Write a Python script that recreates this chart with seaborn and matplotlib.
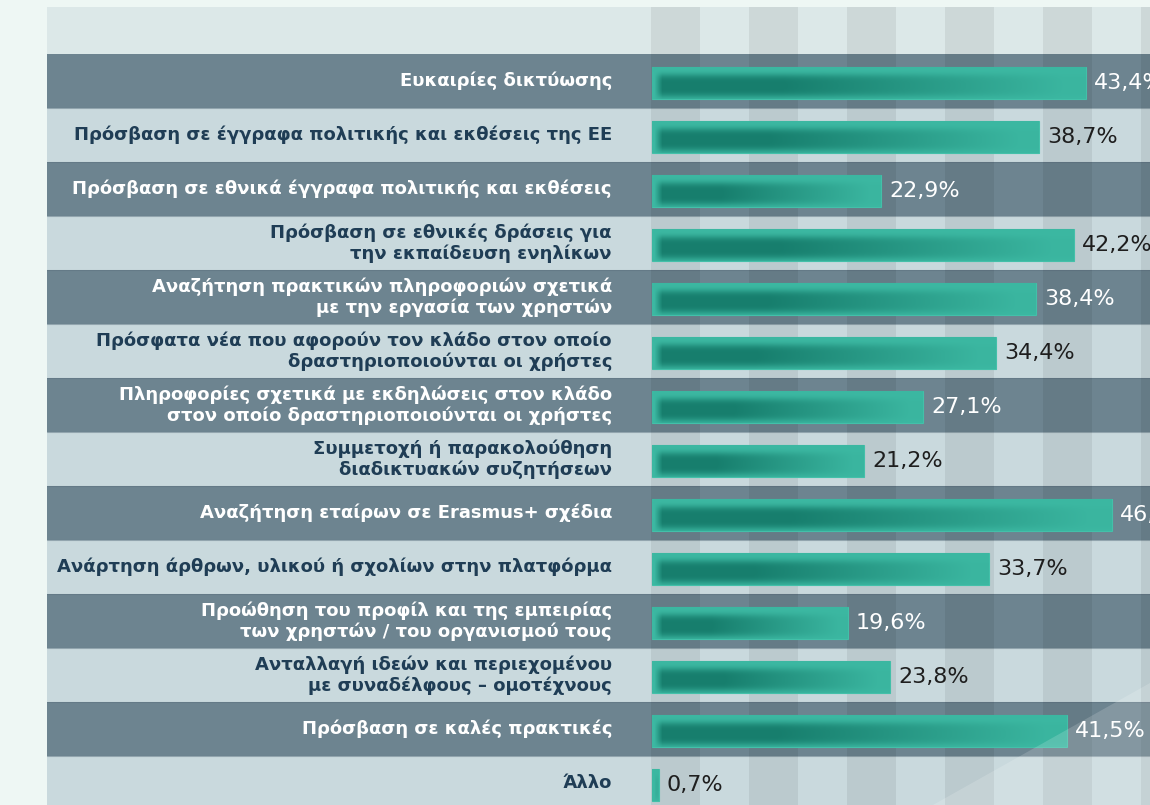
import numpy as np
import pandas as pd
import matplotlib
matplotlib.use("Agg")
import matplotlib.pyplot as plt
from matplotlib.patches import Polygon
import seaborn as sns

# data
labels = [
    "Ευκαιρίες δικτύωσης",
    "Πρόσβαση σε έγγραφα πολιτικής και εκθέσεις της ΕΕ",
    "Πρόσβαση σε εθνικά έγγραφα πολιτικής και εκθέσεις",
    "Πρόσβαση σε εθνικές δράσεις για\nτην εκπαίδευση ενηλίκων",
    "Αναζήτηση πρακτικών πληροφοριών σχετικά\nμε την εργασία των χρηστών",
    "Πρόσφατα νέα που αφορούν τον κλάδο στον οποίο\nδραστηριοποιούνται οι χρήστες",
    "Πληροφορίες σχετικά με εκδηλώσεις στον κλάδο\nστον οποίο δραστηριοποιούνται οι χρήστες",
    "Συμμετοχή ή παρακολούθηση\nδιαδικτυακών συζητήσεων",
    "Αναζήτηση εταίρων σε Erasmus+ σχέδια",
    "Ανάρτηση άρθρων, υλικού ή σχολίων στην πλατφόρμα",
    "Προώθηση του προφίλ και της εμπειρίας\nτων χρηστών / του οργανισμού τους",
    "Ανταλλαγή ιδεών και περιεχομένου\nμε συναδέλφους – ομοτέχνους",
    "Πρόσβαση σε καλές πρακτικές",
    "Άλλο",
]
values = [43.4, 38.7, 22.9, 42.2, 38.4, 34.4, 27.1, 21.2, 46.0, 33.7, 19.6, 23.8, 41.5, 0.7]

# colours
outer_bg = "#eef7f4"
header_bg = "#dce8e8"
dark_row = "#6d8490"
light_row = "#c9d9dd"
navy = "#1f3d55"
teal_light = np.array([0x3c, 0xb8, 0xa2]) / 255
teal_dark = np.array([0x17, 0x7e, 0x6d]) / 255

sns.set_style("white")
plt.rcParams["font.family"] = ["DejaVu Sans"]

W, H = 1150, 805
fig = plt.figure(figsize=(W / 100, H / 100), dpi=100)
fig.patch.set_facecolor(outer_bg)

# axes covers the whole panel (label column + plot area), 10 px per percent
left_px, top_px, zero_px = 47, 7, 652
ax = fig.add_axes([left_px / W, 0, 1 - left_px / W, (H - top_px) / H])

df = pd.DataFrame({"label": labels, "value": values})
sns.barplot(data=df, x="value", y="label", orient="h", color=teal_light,
            width=0.6, ax=ax, zorder=3, edgecolor="#43c0a9", linewidth=0.8)
bars = list(ax.containers[0])

# row bands
for i in range(len(labels)):
    ax.axhspan(i - 0.5, i + 0.5, color=dark_row if i % 2 == 0 else light_row,
               zorder=0, lw=0)
    ax.axhline(i + 0.5, color="#5c7280", lw=0.8, alpha=0.5, zorder=0.5)
ax.axhspan(-2, -0.5, color=header_bg, zorder=0, lw=0)

# vertical stripes in plot area
for k in range(6):
    ax.axvspan(k * 9.8 - 0.1, k * 9.8 + 4.8, color="black", alpha=0.065,
               zorder=1, lw=0)

# blurred gradient fill inside each bar
for b in bars:
    b.set_y(b.get_y() + 0.04)
    x0, y0, w, h = b.get_x(), b.get_y(), b.get_width(), b.get_height()
    nx, ny = max(int(w * 10), 4), 32
    px = np.arange(nx)
    ramp = np.clip((px - 2) / 8.0, 0, 1)
    decay = np.clip(1 - (px - 0.3 * nx) / (0.68 * nx), 0.05, 1)
    hx = ramp * decay
    t = np.linspace(0, 1, ny)
    vy = np.exp(-((t - 0.6) / 0.36) ** 4)
    wgt = (vy[:, None] * hx[None, :])[..., None]
    rgb = teal_light + (teal_dark - teal_light) * wgt
    im = ax.imshow(rgb, extent=(x0, x0 + w, y0 + h, y0), aspect="auto",
                   interpolation="bilinear", zorder=3.5)
    im.set_clip_path(b)

# value labels and category labels
for i, (lab, v) in enumerate(zip(labels, values)):
    dark = i % 2 == 0
    ax.text(v + 0.8, i + 0.04, f"{v:.1f}%".replace(".", ","), ha="left",
            va="center", fontsize=16, color="white" if dark else "#1e1e1e",
            zorder=6)
    ax.text(-4.0, i, lab, ha="right", va="center", fontsize=13.0,
            fontweight="bold", color="white" if dark else navy,
            linespacing=1.2, zorder=6)

# light diagonal in the lower right corner
tri = Polygon([(933 / W, 0), (1, (H - 683) / H), (1, 0)], closed=True,
              transform=fig.transFigure, facecolor="white", alpha=0.16,
              lw=0, zorder=4.5, clip_on=False)
ax.add_artist(tri)

ax.set_xlim(-(zero_px - left_px) / 10, (W - zero_px) / 10)
ax.set_ylim(13 + (H - 783) / 54, (top_px - 81) / 54)
ax.axis("off")

fig.savefig("out.png", dpi=100, facecolor=fig.get_facecolor())
